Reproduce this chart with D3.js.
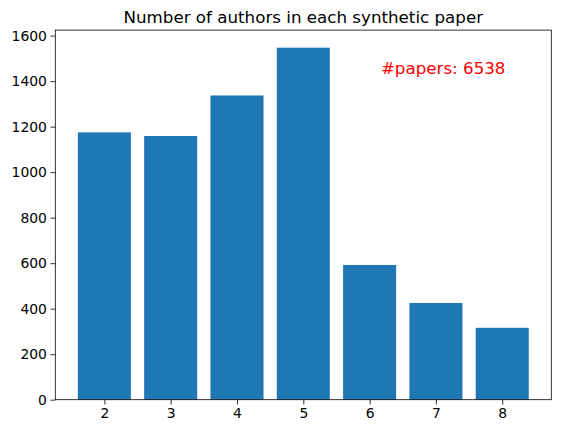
<!DOCTYPE html>
<html>
<head>
<meta charset="utf-8">
<script src="https://cdn.jsdelivr.net/npm/d3@7"></script>
<style>
  body { margin: 0; background: #fff; }
  svg { display: block; font-family: "DejaVu Sans", sans-serif; }
</style>
</head>
<body>
<div id="chart"></div>
<script>
const authors = [2, 3, 4, 5, 6, 7, 8]
const papers = [1175, 1159, 1337, 1547, 592, 425, 316]
const yTicks = [0, 200, 400, 600, 800, 1000, 1200, 1400, 1600]
const title = 'Number of authors in each synthetic paper'
const note = '#papers: 6538'

const W = 561, H = 433
const mLeft = 55.3, mRight = 551.3, mTop = 30.1, mBottom = 399.7

const x = d3.scaleLinear().domain([1.26, 8.74]).range([mLeft, mRight])
const yMax = d3.max(papers) * 1.05
const y = d3.scaleLinear().domain([0, yMax]).range([mBottom, mTop])

const svg = d3.select('#chart').append('svg')
  .attr('width', W)
  .attr('height', H)

svg.append('g')
  .selectAll('rect')
  .data(authors)
  .join('rect')
  .attr('x', (d) => x(d - 0.4))
  .attr('width', (d) => x(d + 0.4) - x(d - 0.4))
  .attr('y', (d, i) => y(papers[i]))
  .attr('height', (d, i) => y(0) - y(papers[i]))
  .attr('fill', '#1f77b4')

// axes
const xAxis = d3.axisBottom(x).tickValues(authors).tickSize(4.86).tickPadding(3.5).tickFormat(d3.format('d'))
const yAxis = d3.axisLeft(y).tickValues(yTicks).tickSize(4.86).tickPadding(3.5).tickFormat(d3.format('d'))

const gx = svg.append('g').attr('transform', `translate(0,${mBottom})`).call(xAxis)
const gy = svg.append('g').attr('transform', `translate(${mLeft},0)`).call(yAxis)
for (const g of [gx, gy]) {
  g.select('.domain').remove()
  g.selectAll('line').attr('stroke', '#000').attr('stroke-width', 0.8)
  g.selectAll('text').attr('fill', '#000').attr('font-size', 13.9)
    .attr('font-family', '"DejaVu Sans", sans-serif')
}

// frame
svg.append('rect')
  .attr('x', mLeft)
  .attr('y', mTop)
  .attr('width', mRight - mLeft)
  .attr('height', mBottom - mTop)
  .attr('fill', 'none')
  .attr('stroke', '#000')
  .attr('stroke-width', 0.8)

svg.append('text')
  .attr('x', (mLeft + mRight) / 2)
  .attr('y', mTop - 7)
  .attr('text-anchor', 'middle')
  .attr('font-size', 16.7)
  .text(title)

svg.append('text')
  .attr('x', x(6.17))
  .attr('y', y(1433))
  .attr('fill', 'red')
  .attr('font-size', 16.7)
  .text(note)
</script>
</body>
</html>
